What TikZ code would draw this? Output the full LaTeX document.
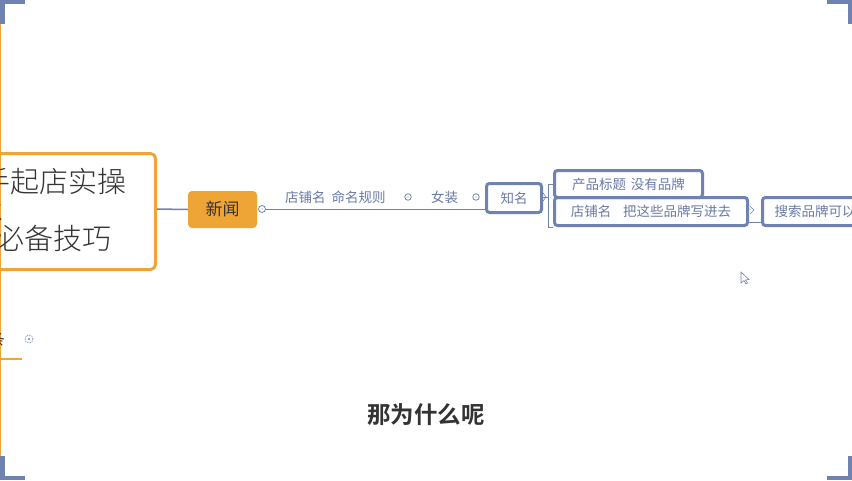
\documentclass[tikz,border=0pt]{standalone}
\usepackage{fontspec}
\setmainfont{Noto Sans CJK SC}
\newfontfamily\cjkbold{Noto Sans CJK SC Bold}
\newfontfamily\cjklight{Noto Sans CJK SC Light}
\definecolor{bgray}{HTML}{6F82B1}
\definecolor{lgray}{HTML}{6A7AA6}
\definecolor{morange}{HTML}{EFA535}
\definecolor{dtext}{HTML}{333333}
\tikzset{
  corner/.style={fill=bgray,draw=none},
  roottxt/.style={font=\cjklight\fontsize{29}{29}\selectfont,text=dtext,inner sep=0pt},
  lbl/.style={font=\fontsize{13.5}{14}\selectfont,text=lgray,inner sep=0pt},
  bbox/.style={draw=bgray,line width=3pt,rounded corners=3pt,font=\fontsize{13.5}{14}\selectfont,text=lgray,inner xsep=0pt,inner ysep=0pt,anchor=north west},
  conn/.style={draw=bgray,line width=1pt},
  colmark/.style={draw=bgray,line width=0.8pt,fill=white,circle,inner sep=0pt,minimum size=7pt},
}
\begin{document}
\begin{tikzpicture}[x=1pt,y=-1pt]
\useasboundingbox (0,0) rectangle (852,480);
\clip (0,0) rectangle (852,480);
\fill[white] (0,0) rectangle (852,480);
% left edge orange line
\draw[morange,line width=1.5pt] (0.7,24) -- (0.7,456);
% root box
\node[draw=morange,line width=3pt,rounded corners=5pt,minimum width=300pt,minimum height=116pt,anchor=north east,inner sep=0pt] (root) at (157,152) {};
\node[roottxt,anchor=east] (r1) at (127,182) {手起店实操};
\node[roottxt,anchor=east] (r2) at (4,208) {级};
\node[roottxt,anchor=east] (r3) at (112,238) {必备技巧};
% 新闻
\node[fill=morange,rounded corners=4pt,minimum width=69pt,minimum height=37pt,inner sep=0pt,font=\fontsize{17}{17}\selectfont,text=dtext] (news) at (222.5,209.5) {新闻};
\draw[conn,line width=1.5pt] (157,209) -- (news.west);
\node[colmark] (m1) at (262,209) {};
\fill[bgray] (m1) circle (0.7pt);
% labels
\node[lbl,anchor=base west] (shop) at (285,202) {店铺名\hspace{6pt}命名规则};
\node[colmark,minimum size=6.5pt] (m2) at (408,197) {};
\fill[bgray] (m2) circle (0.6pt);
\node[lbl,anchor=base west] (nz) at (431,202) {女装};
\node[colmark,minimum size=6.5pt] (m3) at (476,197) {};
\fill[bgray] (m3) circle (0.6pt);
\node[bbox,minimum width=55pt,minimum height=29pt] (zm) at (485,182) {知名};
\draw[conn] (m1.east) -- (zm.west |- 0,209);
% children
\node[bbox,minimum width=148pt,minimum height=27pt] (c1) at (553,169) {产品标题\hspace{5pt}没有品牌};
\node[bbox,minimum width=193pt,minimum height=28pt] (c2) at (553,196) {店铺名\hspace{12pt}把这些品牌写进去};
\node[bbox,minimum width=110pt,minimum height=28pt,align=left,text width=110pt] (c3) at (761,196) {\hspace*{12pt}搜索品牌可以};
\coordinate (j) at (548,197);
\draw[conn] (zm.east |- j) -- (j);
\draw[conn] (j |- c1.west) -- (j |- c2.south) -- (c2.south west);
\draw[conn] (j |- c1.west) -- (c1.west);
\draw[conn,line width=0.6pt] (543,193) -- (546,197) -- (543,201);
\draw[conn] (c2.east |- 0,222) -- (c3.west |- 0,222);
\draw[conn,line width=0.6pt] (750,206) -- (754,210) -- (750,214);
% lower left branch
\node[roottxt,font=\fontsize{16}{16}\selectfont,anchor=east] (br) at (5,339) {条};
\draw[morange,line width=2.5pt] (0,359) -- (22,359);
\node[colmark,densely dotted,minimum size=8pt] (m4) at (29,339) {};
\fill[bgray] (m4) circle (1.2pt);
% bottom caption
\node[font=\cjkbold\fontsize{23.5}{24}\selectfont,text=dtext,inner sep=0pt] (cap) at (426,415) {那为什么呢};
% cursor
\draw[bgray,fill=white,line width=0.6pt] (741,272) -- (741,283) -- (744,280.5) -- (746,284) -- (747.5,283) -- (745.5,280) -- (749,279.5) -- cycle;
% corner brackets
\fill[corner] (0,0) rectangle (25,4);
\fill[corner] (0,0) rectangle (5,24);
\fill[corner] (827,0) rectangle (852,4);
\fill[corner] (848,0) rectangle (852,24);
\fill[corner] (0,476) rectangle (25,480);
\fill[corner] (0,456) rectangle (5,480);
\fill[corner] (827,476) rectangle (852,480);
\fill[corner] (848,456) rectangle (852,480);
\end{tikzpicture}
\end{document}
